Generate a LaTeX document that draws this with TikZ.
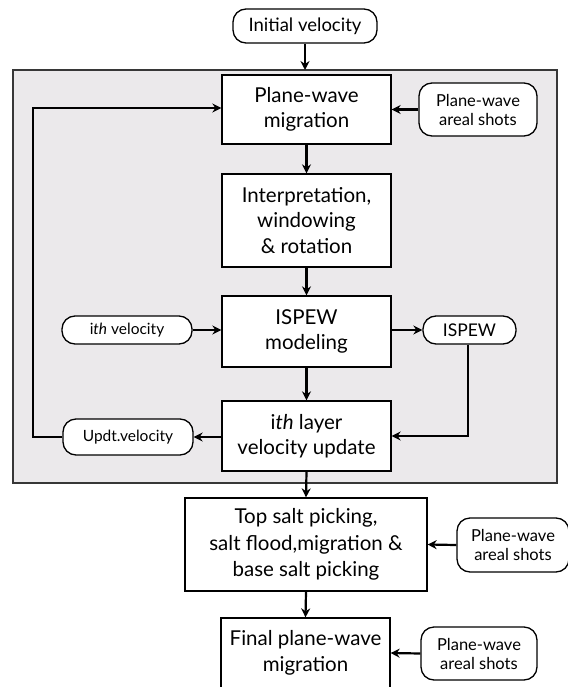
\documentclass[tikz,border=0pt]{standalone}
\usepackage{fontspec}
\setmainfont{Lato}
\usetikzlibrary{arrows.meta}

\definecolor{panelgray}{RGB}{235,233,235}
\definecolor{panelline}{RGB}{55,55,55}

\tikzset{
  stepbox/.style={draw=black, fill=white, line width=1.3pt, align=center,
    inner sep=0pt, font=\fontsize{20.5}{25.5}\selectfont},
  pillbox/.style={draw=black, fill=white, line width=1.3pt, align=center,
    inner sep=0pt, rounded corners=13pt, font=\fontsize{16.5}{19}\selectfont},
  flow/.style={line width=2.2pt, -{Stealth[length=9pt,width=9pt]}}
}

\begin{document}
\begin{tikzpicture}[x=1pt,y=-1pt]
\useasboundingbox (0,0) rectangle (567,687);

% shaded iteration panel
\draw[fill=panelgray, draw=panelline, line width=1.6pt] (13,70) rectangle (557,483);
\coordinate (paneltop) at (305,70);

% main column
\node[pillbox, minimum width=144pt, minimum height=34pt, font=\fontsize{18.5}{22}\selectfont]
  (init) at (305,26) {Initial velocity};
\node[stepbox, minimum width=169pt, minimum height=69pt] (pwm) at (306.5,109.5)
  {Plane-wave\\migration};
\node[stepbox, minimum width=169pt, minimum height=93pt] (interp) at (306.5,220.5)
  {Interpretation,\\windowing\\\& rotation};
\node[stepbox, minimum width=169pt, minimum height=71pt] (ispewm) at (306.5,331.5)
  {ISPEW\\modeling};
\node[stepbox, minimum width=169pt, minimum height=70pt] (layer) at (306.5,436)
  {i\textit{th} layer\\velocity update};
\node[stepbox, minimum width=242pt, minimum height=93pt, font=\fontsize{20.5}{26.5}\selectfont]
  (topsalt) at (306,544.5)
  {Top salt picking,\\salt flood,migration \&\\base salt picking};
\node[stepbox, minimum width=169pt, minimum height=70pt] (final) at (305.5,653)
  {Final plane-wave\\migration};

% side inputs and outputs
\node[pillbox, minimum width=118pt, minimum height=53pt] (shotsA) at (478,109.5)
  {Plane-wave\\areal shots};
\node[pillbox, minimum width=130pt, minimum height=28pt, font=\fontsize{15.5}{18}\selectfont]
  (ithvel) at (127,330) {i\textit{th} velocity};
\node[pillbox, minimum width=93pt, minimum height=28pt, font=\fontsize{17.5}{18}\selectfont]
  (ispews) at (469.5,330) {ISPEW};
\node[pillbox, minimum width=130pt, minimum height=36pt, font=\fontsize{15.5}{18}\selectfont]
  (updt) at (128,437) {Updt.velocity};
\node[pillbox, minimum width=112pt, minimum height=54pt] (shotsB) at (513,545)
  {Plane-wave\\areal shots};
\node[pillbox, minimum width=116pt, minimum height=53pt] (shotsC) at (479,653.5)
  {Plane-wave\\areal shots};

% loop corners
\coordinate (loopbot) at (33,437);
\coordinate (looptop) at (33,108);
\coordinate (ispcorner) at (468,436);

% main flow
\draw[flow] (init.south) -- (paneltop);
\draw[flow] (pwm.south) -- (interp.north);
\draw[flow] (interp.south) -- (ispewm.north);
\draw[flow] (ispewm.south) -- (layer.north);
\draw[flow] (layer.south) -- (topsalt.north);
\draw[flow] (topsalt.south) -- (final.north);

% side connections
\draw[flow] (shotsA.west) -- (pwm.east);
\draw[flow] (ithvel.east) -- (ithvel.east -| ispewm.west);
\draw[flow] (ispewm.east |- ispews.west) -- (ispews.west);
\draw[flow] (ispews.south -| ispcorner) -- (ispcorner) -- (ispcorner -| layer.east);
\draw[flow] (layer.west |- updt.east) -- (updt.east);
\draw[flow] (shotsB.west) -- (topsalt.east);
\draw[flow] (shotsC.west) -- (final.east);

% velocity update loop back to migration
\draw[flow] (updt.west) -- (loopbot) -- (looptop) -- (looptop -| pwm.west);
\end{tikzpicture}
\end{document}
